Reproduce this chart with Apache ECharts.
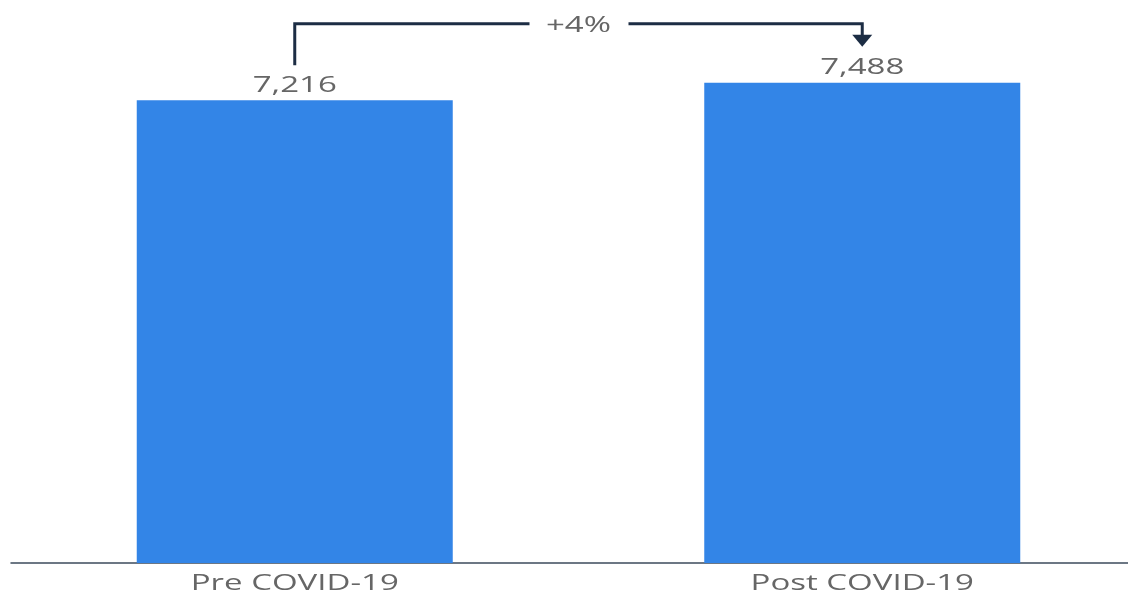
<!DOCTYPE html>
<html>
<head>
<meta charset="utf-8">
<style>
  html, body { margin: 0; padding: 0; background: #ffffff; }
  #chart { width: 1128px; height: 592px; }
</style>
<script src="https://cdn.jsdelivr.net/npm/echarts@6/dist/echarts.min.js"></script>
</head>
<body>
<div id="chart"></div>
<script>
// Categories and values
const categories = ['Pre COVID-19', 'Post COVID-19'];
const values = [7216, 7488];
const changeLabel = '+4%';

const FONT = '"Open Sans", "Noto Sans", sans-serif';
const TEXT_COLOR = '#666666';
const LINE_COLOR = '#1c2d44';
const STRETCH = 1.5; // wide lettering used for all chart text

const chart = echarts.init(document.getElementById('chart'));

chart.setOption({
  animation: false,
  backgroundColor: '#ffffff',
  grid: {
    left: 11, width: 1135, top: 50, bottom: 29,
    containLabel: false, outerBoundsMode: 'none'
  },
  xAxis: {
    type: 'category',
    data: categories,
    axisTick: { show: false },
    axisLine: { show: true, lineStyle: { color: '#3d4b5c', width: 1.5 } },
    axisLabel: { show: false }
  },
  yAxis: {
    type: 'value',
    min: 0,
    max: 8000,
    show: false,
    splitLine: { show: false }
  },
  series: [{
    type: 'bar',
    data: values,
    barWidth: 316,
    itemStyle: { color: '#3385e7' },
    label: { show: false }
  }]
});

function wideText(text, x, y, size) {
  return {
    type: 'text',
    x: x,
    y: y,
    scaleX: STRETCH,
    style: {
      text: text,
      fill: TEXT_COLOR,
      fontSize: size,
      fontFamily: FONT,
      align: 'center',
      verticalAlign: 'middle'
    }
  };
}

const pts = values.map((v, i) => chart.convertToPixel({ xAxisIndex: 0, yAxisIndex: 0 }, [i, v]));
const baseY = chart.convertToPixel({ yAxisIndex: 0 }, 0);

const graphics = [];

// Value labels above bars and category labels below the axis
pts.forEach((p, i) => {
  graphics.push(wideText(values[i].toLocaleString('en-US'), p[0], p[1] - 15, 22));
  graphics.push(wideText(categories[i], p[0], baseY + 21, 22));
});

// Bracket with arrow showing the change between the two bars
const p0 = pts[0], p1 = pts[1];
const topY = Math.min(p0[1], p1[1]) - 59;
const midX = (p0[0] + p1[0]) / 2;
const gap = 49;
const arrowTip = p1[1] - 36;
const arrowH = 12;

graphics.push(
  {
    type: 'polyline',
    shape: { points: [[p0[0], p0[1] - 35], [p0[0], topY], [midX - gap, topY]] },
    style: { stroke: LINE_COLOR, lineWidth: 3, fill: null }
  },
  {
    type: 'polyline',
    shape: { points: [[midX + gap + 1, topY], [p1[0], topY], [p1[0], arrowTip - arrowH + 1]] },
    style: { stroke: LINE_COLOR, lineWidth: 3, fill: null }
  },
  {
    type: 'polygon',
    shape: { points: [[p1[0] - 10, arrowTip - arrowH], [p1[0] + 10, arrowTip - arrowH], [p1[0], arrowTip]] },
    style: { fill: LINE_COLOR }
  },
  wideText(changeLabel, midX, topY + 2, 22)
);

chart.setOption({ graphic: graphics });
</script>
</body>
</html>
